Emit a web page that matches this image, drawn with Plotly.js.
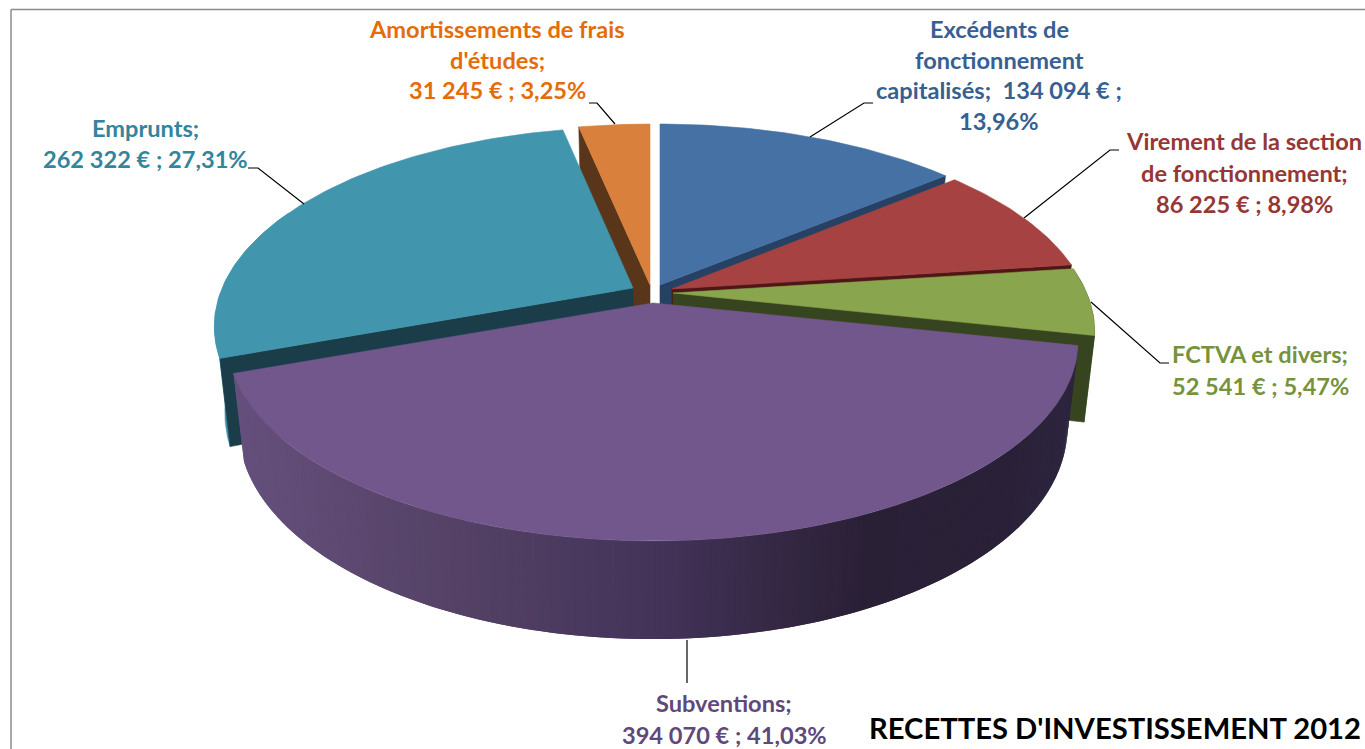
<!DOCTYPE html>
<html><head><meta charset="utf-8">
<script src="https://cdn.plot.ly/plotly-3.0.1.min.js"></script>
<style>html,body{margin:0;padding:0;background:#fff}#c{width:1365px;height:749px}</style>
</head><body><div id="c"></div>
<script>
// DATA
const categories = ["Excédents de fonctionnement capitalisés","Virement de la section de fonctionnement","FCTVA et divers","Subventions","Emprunts","Amortissements de frais d'études"];
const amounts = [134094, 86225, 52541, 394070, 262322, 31245];
const topColors = ["#4571a5","#a64342","#89a54d","#71578b","#4196ae","#d9813c"];
const faceColors = ["#274164","#4f1616","#374420","#2c2338","#1b3d49","#59351a"];
const labelColors = ["#376092","#953735","#76923c","#5f497a","#31859c","#e46c0a"];
const labelLines = [
 ["Excédents de","fonctionnement","capitalisés;  134 094 € ;","13,96%"],
 ["Virement de la section","de fonctionnement;","86 225 € ; 8,98%"],
 ["FCTVA et divers;","52 541 € ; 5,47%"],
 ["Subventions;","394 070 € ; 41,03%"],
 ["Emprunts;","262 322 € ; 27,31%"],
 ["Amortissements de frais","d'études;","31 245 € ; 3,25%"]
];
const chartTitle = "RECETTES D'INVESTISSEMENT 2012";

// LAYOUT OF THE DRAWING (pie projection, explosion, label placement)
const rx=417, ry=192, persp=0.193, depth=84, shrink=0.975;
const sliceScale=[1,0.99,0.992,1,0.985,1];
const apexes=[[660,285],[672,289],[673,293],[653,303],[633,288],[650,285]];
const labelPos=[[999,29,30.7],[1244,141,31.5],[1260,354,32],[724,703,32],[145,128,31],[497,29,30.7]];
const leaders=[
 [[873,103],[864,103],[810,137]],
 [[1119,150],[1110,150],[1024,218]],
 [[1169,363],[1160,363],[1091,302]],
 [[687,640],[687,683]],
 [[248,168],[258,168],[304,204]],
 [[589,103],[597,103],[615,124]]
];
const wallStops=[[240,[101,80,125]],[450,[85,66,102]],[650,[68,52,90]],[860,[42,32,54]],[1000,[42,33,56]],[1080,[46,37,64]]];

const total=amounts.reduce((a,b)=>a+b,0);
const starts=[];let acc=0;
amounts.forEach(v=>{starts.push(acc/total*360);acc+=v;});
const ends=amounts.map((v,i)=>starts[i]+v/total*360);

function proj(i,deg,low){
  const t=deg*Math.PI/180,u=Math.sin(t),v=-Math.cos(t),s=1/(1-persp*v),k=low?shrink:1;
  const [ax,ay]=apexes[i];
  return [ax+rx*sliceScale[i]*u*s*k, ay+ry*v*s*k+(low?depth*s:0)];
}
function apex(i,low){const [ax,ay]=apexes[i];return [ax,ay+(low?depth:0)];}
function arc(i,a,b,low){const n=Math.max(2,Math.ceil(Math.abs(b-a)));const o=[];
  for(let j=0;j<=n;j++)o.push(proj(i,a+(b-a)*j/n,low));return o;}
function poly(pts,color,w){
  const p=pts.concat([pts[0]]);
  return {type:"scatter",mode:"lines",x:p.map(q=>q[0]),y:p.map(q=>q[1]),fill:"toself",fillcolor:color,
    line:{color:color,width:w===undefined?0.6:w},hoverinfo:"skip",showlegend:false};
}
function topFace(i){return poly([apex(i,false)].concat(arc(i,starts[i],ends[i],false)),topColors[i]);}
function radial(i,deg){return poly([apex(i,false),proj(i,deg,false),proj(i,deg,true),apex(i,true)],faceColors[i]);}
function outer(i,a,b,color,w){return poly(arc(i,a,b,false).concat(arc(i,b,a,true)),color,w);}
function wallColor(x){
  let a=wallStops[0],b=wallStops[wallStops.length-1];
  if(x<=a[0])return `rgb(${a[1]})`; if(x>=b[0])return `rgb(${b[1]})`;
  for(let j=0;j<wallStops.length-1;j++){ if(x>=wallStops[j][0]&&x<=wallStops[j+1][0]){a=wallStops[j];b=wallStops[j+1];break;} }
  const f=(x-a[0])/(b[0]-a[0]);
  return "rgb("+a[1].map((c,n)=>Math.round(c+(b[1][n]-c)*f)).join(",")+")";
}
const traces=[];
// back to front: Amortissements, Excédents, Virement, FCTVA, Emprunts, Subventions
traces.push(radial(5,starts[5]),topFace(5));
traces.push(radial(0,ends[0]),topFace(0));
traces.push(radial(1,ends[1]),topFace(1));
traces.push(outer(2,starts[2],ends[2],faceColors[2]),radial(2,ends[2]),topFace(2));
traces.push(outer(4,starts[4],starts[4]+45,topColors[4]),radial(4,starts[4]),topFace(4));
// Subventions: outer wall in narrow shaded bands, then the top
const sub=3, step=0.7;
for(let a=starts[sub];a<ends[sub];a+=step){
  const b=Math.min(a+step*2,ends[sub]);
  const x=proj(sub,a+step/2,true)[0];
  traces.push(outer(sub,a,b,wallColor(x),0));
}
traces.push(topFace(sub));
leaders.forEach(l=>traces.push({type:"scatter",mode:"lines",x:l.map(q=>q[0]),y:l.map(q=>q[1]),
  line:{color:"#000",width:1.2},hoverinfo:"skip",showlegend:false}));

const annotations=[];
labelLines.forEach((lines,i)=>{
  const [cx,y0,dy]=labelPos[i];
  lines.forEach((t,j)=>annotations.push({xref:"x",yref:"y",x:cx,y:y0+j*dy,text:t,showarrow:false,
    xanchor:"center",yanchor:"middle",font:{family:"Lato, sans-serif",size:23.6,color:labelColors[i],weight:700}}));
});
annotations.push({xref:"x",yref:"y",x:1363,y:727,text:chartTitle,showarrow:false,xanchor:"right",yanchor:"middle",
  font:{family:"Lato, sans-serif",size:29.2,color:"#000",weight:700}});

const axis={visible:false,fixedrange:true,showgrid:false,zeroline:false};
const layout={width:1365,height:749,margin:{l:0,r:0,t:0,b:0},paper_bgcolor:"#fff",plot_bgcolor:"#fff",showlegend:false,
  xaxis:Object.assign({range:[0,1365]},axis),yaxis:Object.assign({range:[749,0]},axis),annotations:annotations,
  shapes:[{type:"line",xref:"x",yref:"y",x0:11,x1:1365,y0:9.5,y1:9.5,line:{color:"#8c8c8c",width:1.5}},
          {type:"line",xref:"x",yref:"y",x0:11,x1:11,y0:9.5,y1:749,line:{color:"#8c8c8c",width:1.5}}]};
Plotly.newPlot("c",traces,layout,{staticPlot:true,displayModeBar:false});
</script></body></html>
